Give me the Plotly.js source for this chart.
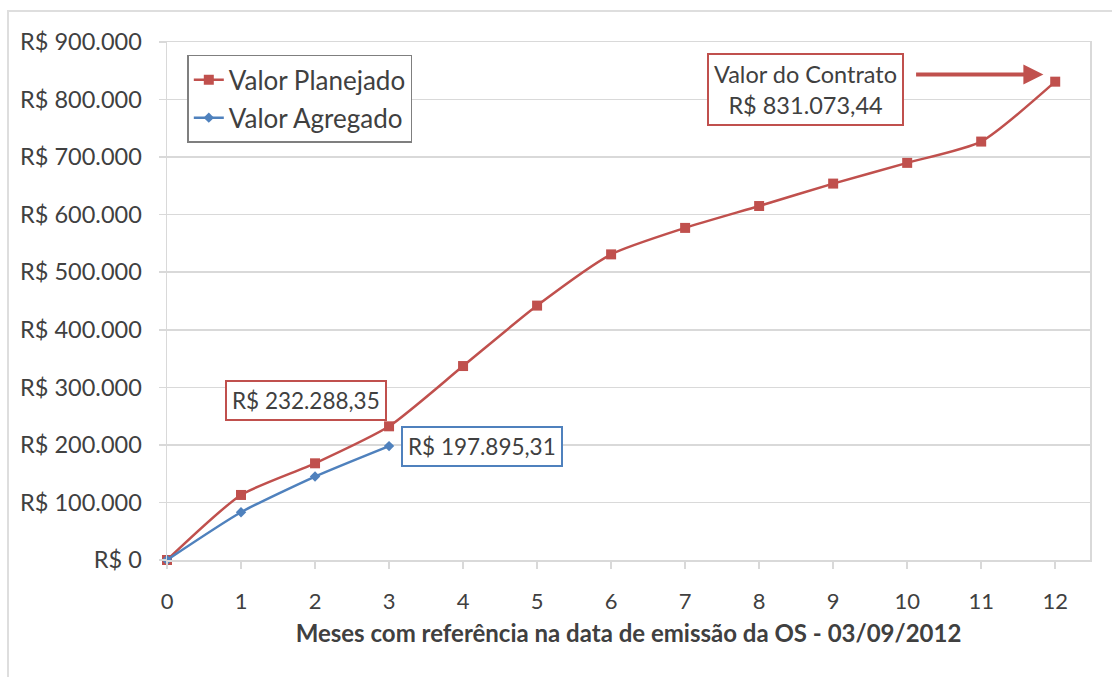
<!DOCTYPE html>
<html>
<head>
<meta charset="utf-8">
<script src="https://cdn.plot.ly/plotly-3.0.1.min.js"></script>
<style>
  html, body { margin: 0; padding: 0; background: #ffffff; overflow: hidden; }
  #chart { width: 1112px; height: 677px; }
  #frame { position: absolute; left: 7px; top: 10px; width: 1200px; height: 800px;
           border-left: 2px solid #dedede; border-top: 2px solid #dedede; pointer-events: none; }
</style>
</head>
<body>
<div id="chart"></div>
<div id="frame"></div>
<script>
// ---- data ----
const months = [0, 1, 2, 3, 4, 5, 6, 7, 8, 9, 10, 11, 12];
const valorPlanejado = [0, 113000, 168000, 232288.35, 337000, 442000, 531000, 577000, 615000, 654000, 690000, 727000, 831073.44];
const mesesAgregado = [0, 1, 2, 3];
const valorAgregado = [0, 83000, 145000, 197895.31];

const yTickVals = [0, 100000, 200000, 300000, 400000, 500000, 600000, 700000, 800000, 900000];
const yTickText = ["R$ 0", "R$ 100.000", "R$ 200.000", "R$ 300.000", "R$ 400.000", "R$ 500.000",
                   "R$ 600.000", "R$ 700.000", "R$ 800.000", "R$ 900.000"];

const seriesNames = ["Valor Planejado", "Valor Agregado"];
const xTitle = "Meses com referência na data de emissão da OS - 03/09/2012";
const labelPlanejado3 = "R$ 232.288,35";
const labelAgregado3 = "R$ 197.895,31";
const labelContrato = "Valor do Contrato<br>R$ 831.073,44";

const RED = "#C0504D";
const BLUE = "#4F81BD";
const GRID = "#d9d9d9";
const TXT = "#404040";
const FONT = "Lato, 'Open Sans', sans-serif";

const traces = [
  {
    x: months, y: valorPlanejado, name: seriesNames[0], type: "scatter", mode: "lines+markers",
    line: { color: RED, width: 2.5, shape: "spline", smoothing: 0.6 },
    marker: { symbol: "square", size: 10, color: RED },
    cliponaxis: false, legendgroup: "a"
  },
  {
    x: mesesAgregado, y: valorAgregado, name: seriesNames[1], type: "scatter", mode: "lines+markers",
    line: { color: BLUE, width: 2.5, shape: "spline", smoothing: 0.6 },
    marker: { symbol: "diamond", size: 8, color: BLUE },
    cliponaxis: false, legendgroup: "b"
  }
];

const layout = {
  width: 1112, height: 677,
  margin: { l: 167, r: 22, t: 42, b: 117 },
  paper_bgcolor: "#ffffff", plot_bgcolor: "#ffffff",
  font: { family: FONT, color: TXT, size: 22 },
  showlegend: true,
  legend: {
    x: 0.022, y: 0.975, xanchor: "left", yanchor: "top",
    bordercolor: "#7f7f7f", borderwidth: 1.5, bgcolor: "#ffffff",
    font: { family: FONT, size: 26, color: TXT },
    traceorder: "grouped", tracegroupgap: 1
  },
  xaxis: {
    range: [0, 12.47], tickvals: months, ticktext: months.map(String),
    showgrid: false, zeroline: false,
    showline: true, linecolor: GRID, linewidth: 1.5, mirror: true,
    ticks: "outside", ticklen: 7, tickcolor: GRID, tickwidth: 1.5,
    ticklabelstandoff: 14,
    tickfont: { family: FONT, size: 22, color: TXT },
    title: { text: "<b>" + xTitle + "</b>", font: { family: FONT, size: 24, color: TXT }, standoff: 12 }
  },
  yaxis: {
    range: [0, 900000], tickvals: yTickVals, ticktext: yTickText,
    showgrid: true, gridcolor: GRID, gridwidth: 1.5, zeroline: false,
    showline: true, linecolor: GRID, linewidth: 1.5, mirror: true,
    ticks: "outside", ticklen: 7, tickcolor: GRID, tickwidth: 1.5,
    ticklabelstandoff: 12,
    tickfont: { family: FONT, size: 23.5, color: TXT }
  },
  annotations: [
    {
      x: 1.88, y: 278000, xref: "x", yref: "y", text: labelPlanejado3, showarrow: false,
      font: { family: FONT, size: 22.5, color: TXT },
      bordercolor: RED, borderwidth: 2, borderpad: 5, bgcolor: "#ffffff"
    },
    {
      x: 4.26, y: 196500, xref: "x", yref: "y", text: labelAgregado3, showarrow: false,
      font: { family: FONT, size: 22.5, color: TXT },
      bordercolor: BLUE, borderwidth: 2, borderpad: 5, bgcolor: "#ffffff"
    },
    {
      x: 8.63, y: 818000, xref: "x", yref: "y", text: labelContrato, showarrow: false,
      font: { family: FONT, size: 23.5, color: TXT },
      bordercolor: RED, borderwidth: 2, borderpad: 5, bgcolor: "#ffffff"
    },
    {
      x: 11.84, y: 843500, xref: "x", yref: "y",
      ax: 10.1, ay: 843500, axref: "x", ayref: "y",
      text: "", showarrow: true, arrowhead: 2, arrowsize: 1, arrowwidth: 4, arrowcolor: RED
    }
  ]
};

Plotly.newPlot("chart", traces, layout, { displayModeBar: false, staticPlot: true });
</script>
</body>
</html>
